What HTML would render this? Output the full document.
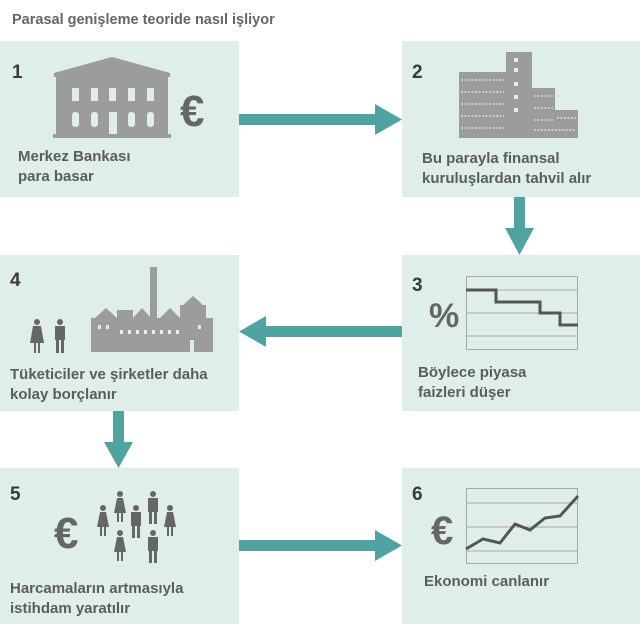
<!DOCTYPE html>
<html><head><meta charset="utf-8"><style>
html,body{margin:0;padding:0;background:#fff;}
svg{display:block;font-family:"Liberation Sans",sans-serif;}
.n{font-size:19px;font-weight:bold;fill:#3a3a3a;}
.t{font-size:15px;fill:#5c5c5c;font-weight:bold;}
</style></head><body>
<svg width="640" height="635" viewBox="0 0 640 635">
<text x="12" y="24" font-size="14.5" fill="#666" font-weight="bold">Parasal genişleme teoride nasıl işliyor</text>
<g fill="#dfeeeb">
<rect x="0" y="41" width="239" height="156"/>
<rect x="402" y="41" width="238" height="156"/>
<rect x="0" y="255" width="239" height="156"/>
<rect x="402" y="255" width="238" height="156"/>
<rect x="0" y="468" width="239" height="156"/>
<rect x="402" y="468" width="238" height="156"/>
</g>
<g fill="#4fa3a0">
<rect x="239" y="114" width="138" height="11"/><polygon points="375,104 402,119.5 375,135"/>
<rect x="514" y="197" width="11" height="33"/><polygon points="505,228 534,228 519.5,255"/>
<rect x="264" y="326" width="138" height="11"/><polygon points="266,316 239,331.5 266,347"/>
<rect x="113" y="411" width="11" height="33"/><polygon points="104,442 133,442 118.5,468"/>
<rect x="239" y="540" width="138" height="11"/><polygon points="375,530 402,545.5 375,561"/>
</g>
<!-- box1 -->
<text x="12" y="78" class="n">1</text>
<g fill="#9c9c9c">
<polygon points="54,73 112,57 170,73"/>
<rect x="54" y="73" width="116" height="4"/>
<rect x="56" y="77" width="112" height="57"/>
<rect x="53" y="134" width="118" height="4"/>
</g>
<g fill="#dfeeeb">
<rect x="72" y="88" width="7" height="13"/><rect x="91" y="88" width="7" height="13"/><rect x="109" y="88" width="7" height="13"/><rect x="128" y="88" width="7" height="13"/><rect x="147" y="88" width="7" height="13"/>
<rect x="72" y="112" width="7" height="15" rx="3"/><rect x="91" y="112" width="7" height="15" rx="3"/><rect x="109" y="112" width="8" height="22"/><rect x="128" y="112" width="7" height="15" rx="3"/><rect x="147" y="112" width="7" height="15" rx="3"/>
</g>
<text x="180" y="126" font-size="44" font-weight="bold" fill="#666">€</text>
<text x="18" y="161" class="t">Merkez Bankası</text>
<text x="18" y="181" class="t">para basar</text>
<!-- box2 -->
<text x="412" y="78" class="n">2</text>
<g fill="#9c9c9c">
<rect x="459" y="72" width="47" height="66"/>
<rect x="506" y="52" width="26" height="86"/>
<rect x="532" y="88" width="23" height="50"/>
<rect x="555" y="110" width="23" height="28"/>
</g>
<g stroke="#dfeeeb" stroke-width="1.2" stroke-dasharray="2,1.5">
<line x1="461" y1="80" x2="504" y2="80"/><line x1="461" y1="92" x2="504" y2="92"/><line x1="461" y1="104" x2="504" y2="104"/><line x1="461" y1="116" x2="504" y2="116"/><line x1="461" y1="128" x2="504" y2="128"/>
<line x1="534" y1="96" x2="553" y2="96"/><line x1="534" y1="108" x2="553" y2="108"/><line x1="534" y1="120" x2="553" y2="120"/><line x1="534" y1="130" x2="576" y2="130"/><line x1="557" y1="118" x2="576" y2="118"/>
</g>
<g fill="#dfeeeb"><rect x="514" y="58" width="4" height="4"/><rect x="514" y="68" width="4" height="4"/><rect x="514" y="82" width="4" height="4"/><rect x="514" y="95" width="4" height="4"/><rect x="514" y="108" width="4" height="4"/></g>
<text x="422" y="163" class="t">Bu parayla finansal</text>
<text x="422" y="183" class="t">kuruluşlardan tahvil alır</text>
<!-- box3 -->
<text x="412" y="291" class="n">3</text>
<text x="429" y="327" font-size="34" font-weight="bold" fill="#666">%</text>
<rect x="466.5" y="276.5" width="111" height="73" fill="none" stroke="#a8a8a8"/>
<g stroke="#a8a8a8"><line x1="466" y1="290" x2="578" y2="290"/><line x1="466" y1="313" x2="578" y2="313"/><line x1="466" y1="336" x2="578" y2="336"/></g>
<polyline points="466,290 496,290 496,302 540,302 540,313 560,313 560,325 578,325" fill="none" stroke="#555" stroke-width="3"/>
<text x="418" y="377" class="t">Böylece piyasa</text>
<text x="418" y="397" class="t">faizleri düşer</text>
<!-- box4 -->
<text x="10" y="286" class="n">4</text>
<g fill="#666">
<circle cx="37" cy="322" r="3"/><polygon points="33,326 41,326 44,343 30,343"/><rect x="34" y="343" width="2" height="10"/><rect x="38" y="343" width="2" height="10"/>
<circle cx="60" cy="322" r="3"/><rect x="55" y="326" width="10" height="14"/><rect x="56" y="340" width="3" height="13"/><rect x="61" y="340" width="3" height="13"/>
</g>
<g fill="#9c9c9c">
<rect x="91" y="318" width="122" height="34"/>
<polygon points="95,318 106,308 117,318"/>
<polygon points="133,318 142,308 151,318"/>
<rect x="150" y="267" width="7" height="51"/>
<polygon points="160,318 170,308 180,318"/>
<rect x="180" y="305" width="26" height="13"/><polygon points="183,305 193,296 203,305"/>
<rect x="117" y="310" width="16" height="8"/>
</g>
<g fill="#dfeeeb"><rect x="98" y="325" width="3" height="4"/><rect x="106" y="325" width="3" height="4"/><rect x="120" y="330" width="3" height="4"/><rect x="128" y="330" width="3" height="4"/><rect x="136" y="330" width="3" height="4"/><rect x="144" y="330" width="3" height="4"/><rect x="152" y="330" width="3" height="4"/><rect x="160" y="330" width="3" height="4"/><rect x="168" y="330" width="3" height="4"/><rect x="176" y="330" width="3" height="4"/><rect x="190" y="340" width="4" height="12"/><rect x="198" y="325" width="3" height="4"/></g>
<text x="10" y="379" class="t">Tüketiciler ve şirketler daha</text>
<text x="10" y="399" class="t">kolay borçlanır</text>
<!-- box5 -->
<text x="10" y="500" class="n">5</text>
<text x="54" y="548" font-size="44" font-weight="bold" fill="#666">€</text>
<g fill="#666">
<g transform="translate(103,508)"><circle cx="0" cy="0" r="3"/><polygon points="-3,4 3,4 6,19 -6,19"/><rect x="-3" y="19" width="2" height="9"/><rect x="1" y="19" width="2" height="9"/></g>
<g transform="translate(120,494)"><circle cx="0" cy="0" r="3"/><polygon points="-3,4 3,4 6,19 -6,19"/><rect x="-3" y="19" width="2" height="9"/><rect x="1" y="19" width="2" height="9"/></g>
<g transform="translate(136,508)"><circle cx="0" cy="0" r="3"/><rect x="-5" y="4" width="10" height="14"/><rect x="-4" y="18" width="3" height="12"/><rect x="1" y="18" width="3" height="12"/></g>
<g transform="translate(153,494)"><circle cx="0" cy="0" r="3"/><rect x="-5" y="4" width="10" height="14"/><rect x="-4" y="18" width="3" height="12"/><rect x="1" y="18" width="3" height="12"/></g>
<g transform="translate(170,508)"><circle cx="0" cy="0" r="3"/><polygon points="-3,4 3,4 6,19 -6,19"/><rect x="-3" y="19" width="2" height="9"/><rect x="1" y="19" width="2" height="9"/></g>
<g transform="translate(120,533)"><circle cx="0" cy="0" r="3"/><polygon points="-3,4 3,4 6,19 -6,19"/><rect x="-3" y="19" width="2" height="9"/><rect x="1" y="19" width="2" height="9"/></g>
<g transform="translate(153,533)"><circle cx="0" cy="0" r="3"/><rect x="-5" y="4" width="10" height="14"/><rect x="-4" y="18" width="3" height="12"/><rect x="1" y="18" width="3" height="12"/></g>
</g>
<text x="10" y="593" class="t">Harcamaların artmasıyla</text>
<text x="10" y="613" class="t">istihdam yaratılır</text>
<!-- box6 -->
<text x="412" y="500" class="n">6</text>
<text x="431" y="544" font-size="40" font-weight="bold" fill="#666">€</text>
<rect x="466.5" y="488.5" width="111" height="75" fill="none" stroke="#a8a8a8"/>
<g stroke="#a8a8a8"><line x1="466" y1="503" x2="578" y2="503"/><line x1="466" y1="527" x2="578" y2="527"/><line x1="466" y1="551" x2="578" y2="551"/></g>
<polyline points="466,549 483,539 500,543 515,524 530,530 545,518 560,516 578,496" fill="none" stroke="#555" stroke-width="3"/>
<text x="424" y="586" class="t">Ekonomi canlanır</text>
</svg>
</body></html>
